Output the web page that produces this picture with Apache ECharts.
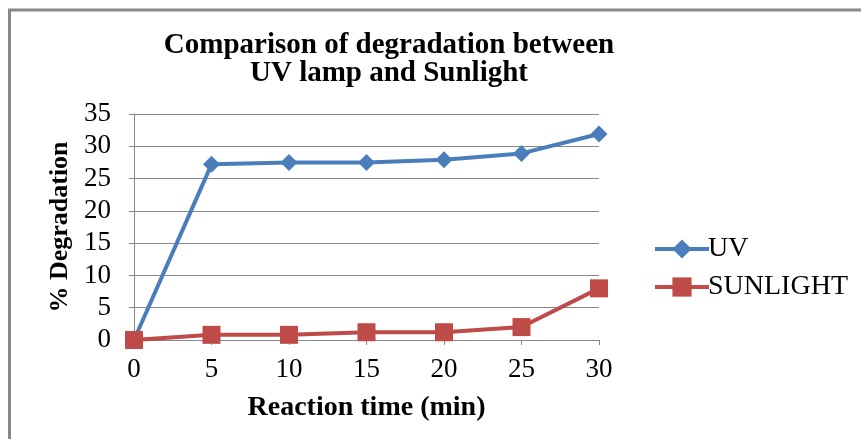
<!DOCTYPE html>
<html>
<head>
<meta charset="utf-8">
<script src="https://cdn.jsdelivr.net/npm/echarts@6/dist/echarts.min.js"></script>
<style>html,body{margin:0;padding:0;background:#fff;}#c{width:861px;height:439px;}</style>
</head>
<body>
<div id="c"></div>
<script>
const timeMin = [0, 5, 10, 15, 20, 25, 30];
const uvValues = [0, 27.2, 27.5, 27.5, 27.9, 28.9, 31.9];
const sunValues = [0, 0.8, 0.8, 1.2, 1.2, 2.0, 8.0];
const yTicks = [0, 5, 10, 15, 20, 25, 30, 35];
const titleText = 'Comparison of degradation between\nUV lamp and Sunlight';

const serif = '"Liberation Serif", "DejaVu Serif", serif';
const chart = echarts.init(document.getElementById('c'));
chart.setOption({
  backgroundColor: '#fff',
  animation: false,
  title: {
    text: titleText,
    left: 384, top: 27, textAlign: 'center',
    textStyle: {fontFamily: serif, fontWeight: 'bold', fontSize: 29, lineHeight: 28, color: '#000'}
  },
  graphic: [
    {type: 'line', shape: {x1: 8, y1: 10, x2: 861, y2: 10}, style: {stroke: '#888', lineWidth: 3}},
    {type: 'line', shape: {x1: 9.5, y1: 9, x2: 9.5, y2: 439}, style: {stroke: '#888', lineWidth: 3}}
  ],
  legend: {
    orient: 'vertical', left: 648, top: 230,
    itemWidth: 54, itemHeight: 24, itemGap: 10,
    lineStyle: {width: 4},
    textStyle: {fontFamily: serif, fontSize: 28, color: '#000', padding: [0, 0, 0, -6]},
    data: ['UV', 'SUNLIGHT']
  },
  grid: {left: 134, right: 262, top: 114, bottom: 99},
  xAxis: {
    type: 'value', min: 0, max: 30, interval: 5,
    name: 'Reaction time (min)', nameLocation: 'middle', nameGap: 54,
    nameTextStyle: {fontFamily: serif, fontWeight: 'bold', fontSize: 28, color: '#000'},
    axisLine: {show: true, lineStyle: {color: '#888', width: 1}},
    axisTick: {show: true, length: 5, lineStyle: {color: '#888'}},
    axisLabel: {fontFamily: serif, fontSize: 27, color: '#000', margin: 16},
    splitLine: {show: false}
  },
  yAxis: {
    type: 'value', min: 0, max: 35, interval: 5,
    name: '% Degradation', nameLocation: 'middle', nameGap: 61,
    nameTextStyle: {fontFamily: serif, fontWeight: 'bold', fontSize: 26, color: '#000'},
    axisLine: {show: true, lineStyle: {color: '#888', width: 1}},
    axisTick: {show: true, length: 5, lineStyle: {color: '#888'}},
    axisLabel: {fontFamily: serif, fontSize: 27, color: '#000', margin: 23,
      formatter: v => yTicks.includes(v) ? String(v) : ''},
    splitLine: {show: true, lineStyle: {color: '#888', width: 1}}
  },
  series: [
    {
      name: 'UV', type: 'line', data: timeMin.map((t, i) => [t, uvValues[i]]),
      symbol: 'diamond', symbolSize: 17, lineStyle: {width: 4, color: '#4a7ebb'},
      itemStyle: {color: '#4a7ebb'}
    },
    {
      name: 'SUNLIGHT', type: 'line', data: timeMin.map((t, i) => [t, sunValues[i]]),
      symbol: 'rect', symbolSize: 18, lineStyle: {width: 4, color: '#be4b48'},
      itemStyle: {color: '#be4b48'}
    }
  ]
});
</script>
</body>
</html>
